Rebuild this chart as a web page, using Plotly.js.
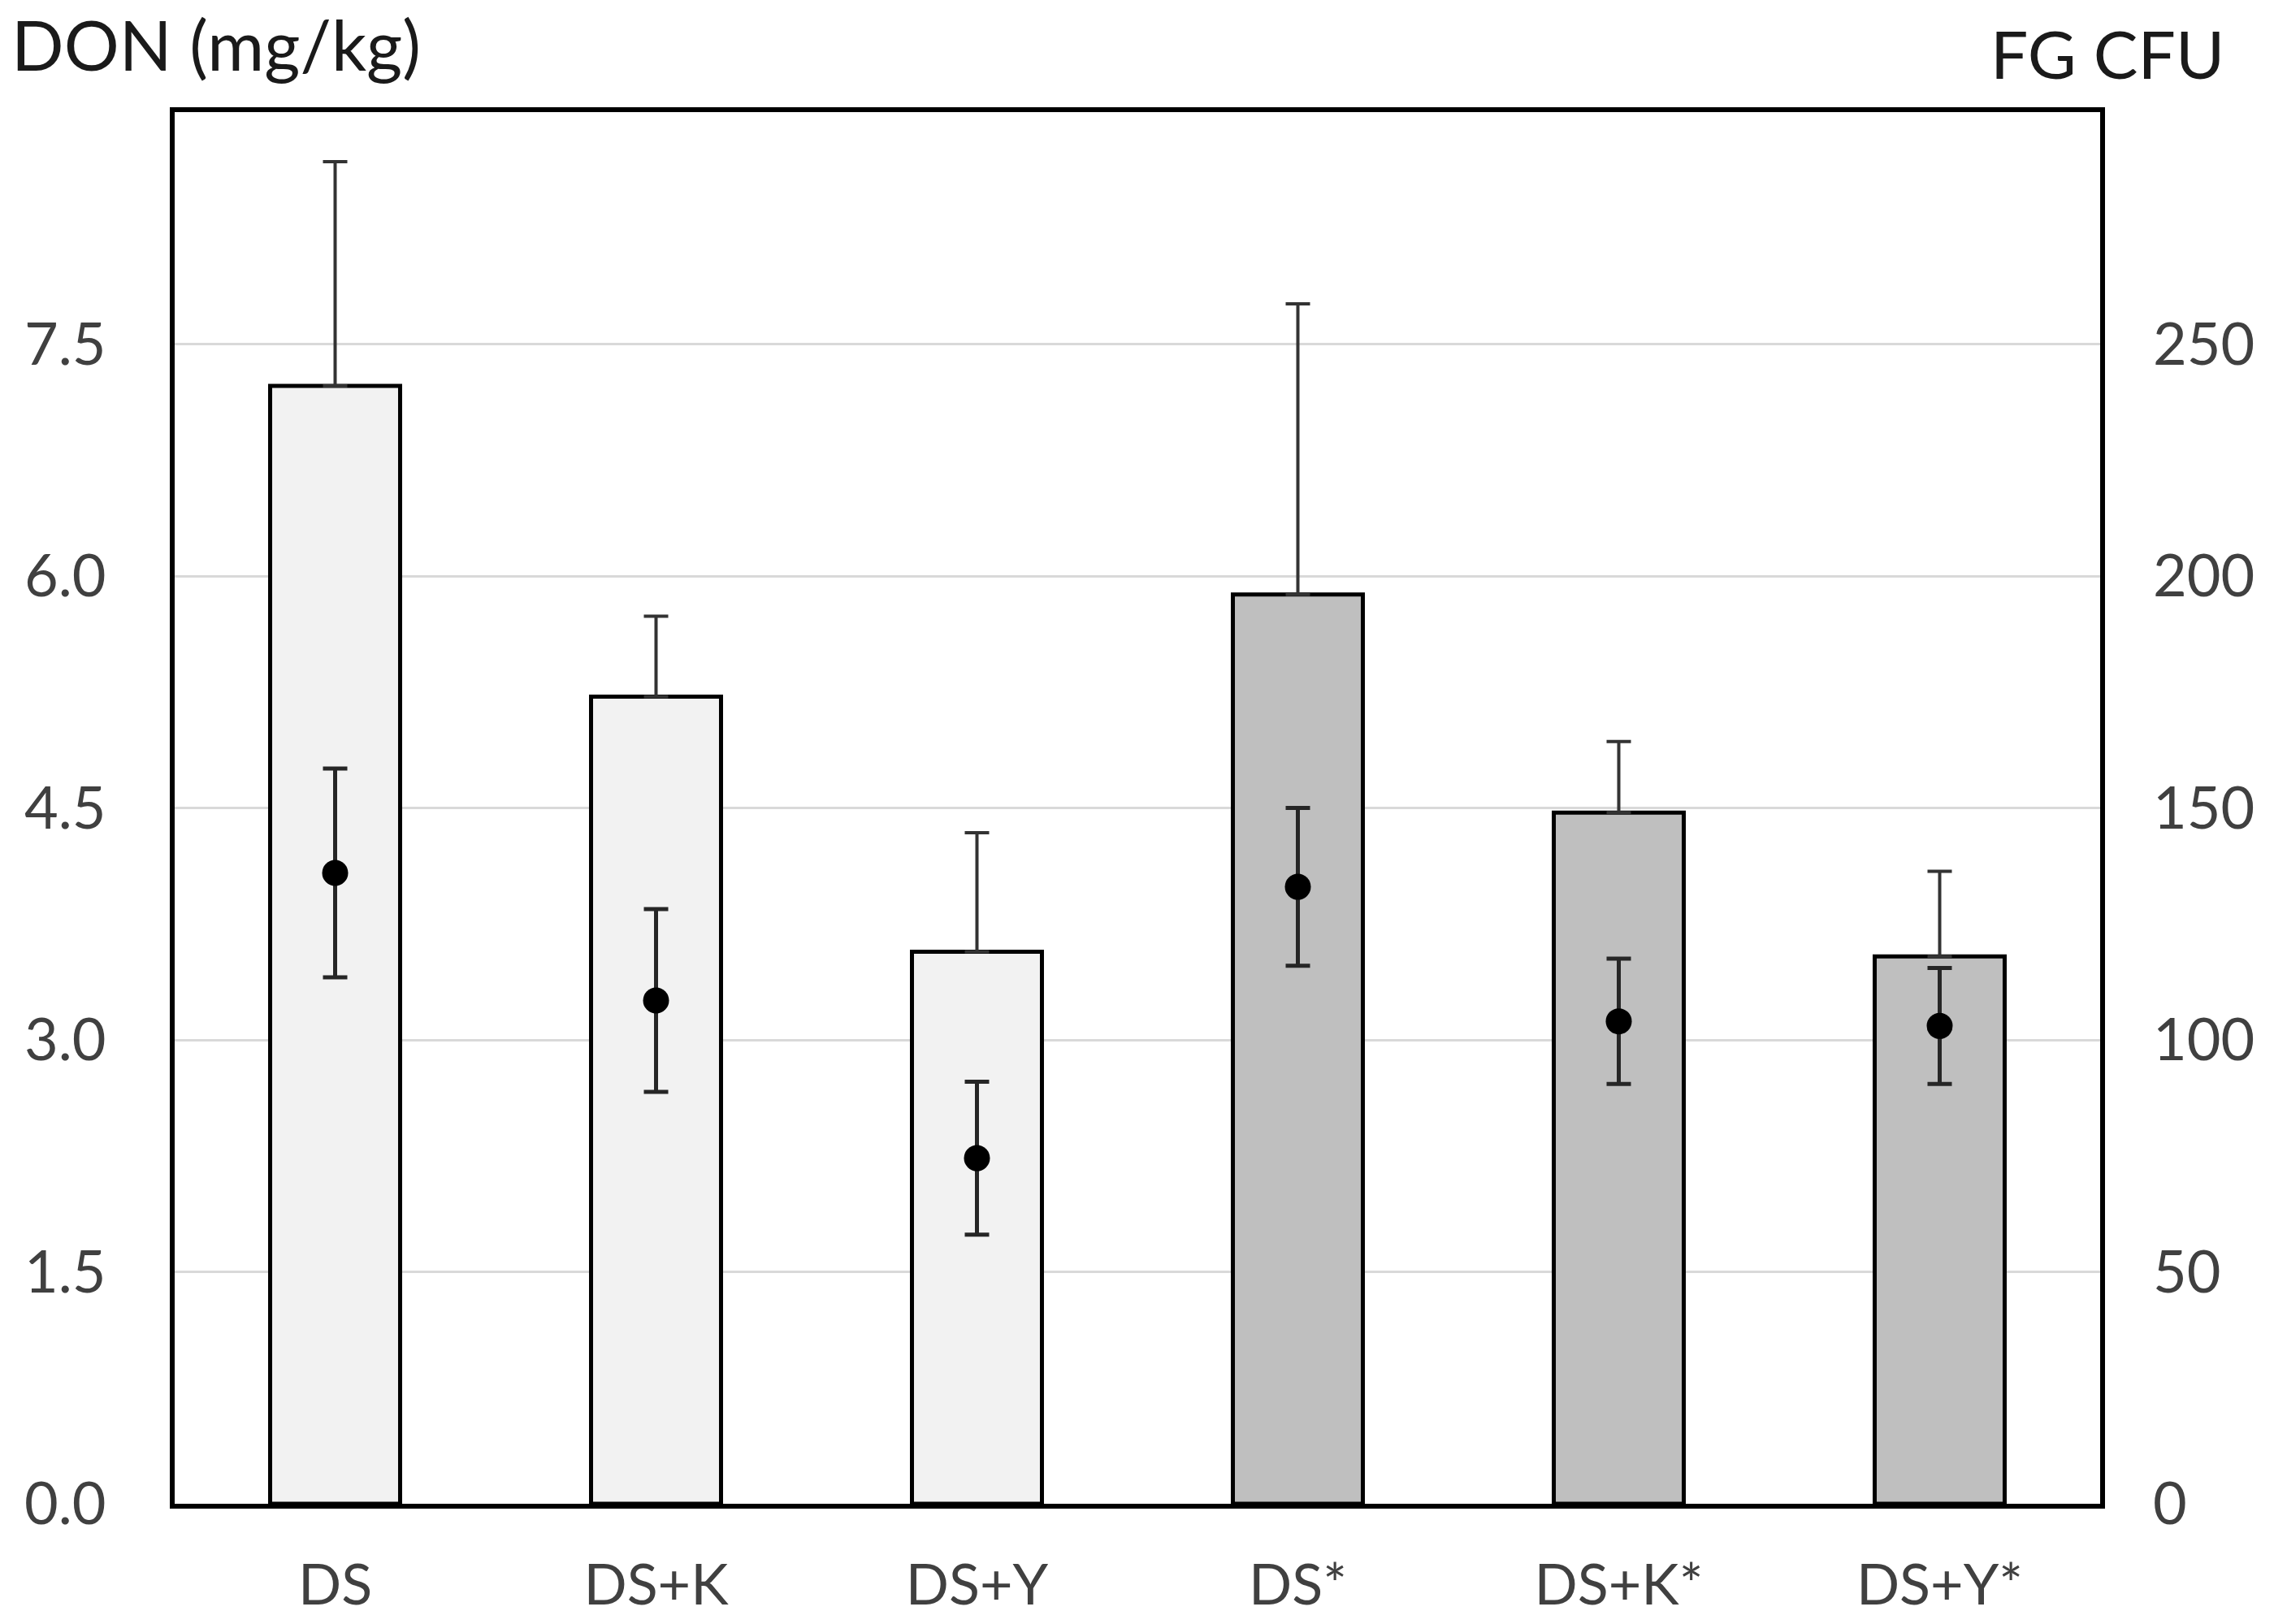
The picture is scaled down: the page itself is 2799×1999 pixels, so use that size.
<!DOCTYPE html>
<html>
<head>
<meta charset="utf-8">
<script src="https://cdn.plot.ly/plotly-3.0.1.min.js"></script>
<style>
  html, body { margin: 0; padding: 0; background: #ffffff; }
  #chart { width: 2799px; height: 1999px; }
</style>
</head>
<body>
<div id="chart"></div>
<script>
// ---- data ----
var categories = ["DS", "DS+K", "DS+Y", "DS*", "DS+K*", "DS+Y*"];
var donMean    = [7.23, 5.22, 3.57, 5.88, 4.47, 3.54];   // DON (mg/kg), bars, left axis
var donErr     = [1.45, 0.52, 0.77, 1.88, 0.46, 0.55];   // upper error only
var cfuMean    = [136, 108.5, 74.5, 133, 104, 103];       // FG CFU, points, right axis
var cfuErr     = [22.5, 19.7, 16.5, 17, 13.5, 12.5];      // symmetric error
var barColors  = ["#f2f2f2", "#f2f2f2", "#f2f2f2", "#bfbfbf", "#bfbfbf", "#bfbfbf"];
var leftTicks  = [0, 1.5, 3, 4.5, 6, 7.5];
var rightTicks = [0, 50, 100, 150, 200, 250];

var FONT = "Lato, 'Open Sans', 'Noto Sans', sans-serif";
var zeros = donMean.map(function () { return 0; });

var bars = {
  type: "bar",
  x: categories,
  y: donMean,
  width: 0.405,
  marker: { color: barColors, line: { color: "#000000", width: 5 } },
  error_y: {
    type: "data", symmetric: false, array: donErr, arrayminus: zeros,
    color: "#333333", thickness: 4, width: 15, visible: true
  },
  yaxis: "y",
  showlegend: false,
  hoverinfo: "skip"
};

var points = {
  type: "scatter",
  mode: "markers",
  x: categories,
  y: cfuMean,
  marker: { color: "#000000", size: 32, symbol: "circle" },
  error_y: {
    type: "data", symmetric: true, array: cfuErr,
    color: "#262626", thickness: 5, width: 15, visible: true
  },
  yaxis: "y2",
  showlegend: false,
  hoverinfo: "skip"
};

var layout = {
  width: 2799,
  height: 1999,
  margin: { l: 215, r: 214, t: 138, b: 148, pad: 0 },
  paper_bgcolor: "#ffffff",
  plot_bgcolor: "#ffffff",
  font: { family: FONT, size: 72, color: "#404040" },
  xaxis: {
    type: "category",
    range: [-0.5, 5.5],
    showline: true, mirror: true, linecolor: "#000000", linewidth: 6,
    showgrid: false, zeroline: false,
    ticks: "", ticklabelstandoff: 34,
    tickfont: { family: FONT, size: 70, color: "#404040" },
    fixedrange: true
  },
  yaxis: {
    range: [0, 9],
    tickvals: leftTicks,
    ticktext: leftTicks.map(function (v) { return v.toFixed(1); }),
    showline: true, mirror: true, linecolor: "#000000", linewidth: 6,
    showgrid: true, gridcolor: "#d9d9d9", gridwidth: 3,
    zeroline: false,
    ticks: "", ticklabelstandoff: 64,
    tickfont: { family: FONT, size: 72, color: "#404040" },
    fixedrange: true
  },
  yaxis2: {
    range: [0, 300],
    overlaying: "y",
    side: "right",
    tickvals: rightTicks,
    ticktext: rightTicks.map(function (v) { return String(v); }),
    showline: false, showgrid: false, zeroline: false,
    ticks: "", ticklabelstandoff: 64,
    tickfont: { family: FONT, size: 72, color: "#404040" },
    fixedrange: true
  },
  annotations: [
    {
      text: "DON (mg/kg)",
      xref: "paper", yref: "paper",
      x: -0.0855, y: 1.049,
      xanchor: "left", yanchor: "middle",
      showarrow: false,
      font: { family: FONT, size: 85, color: "#1a1a1a" }
    },
    {
      text: "FG CFU",
      xref: "paper", yref: "paper",
      x: 1.0655, y: 1.0425,
      xanchor: "right", yanchor: "middle",
      showarrow: false,
      font: { family: FONT, size: 82, color: "#1a1a1a" }
    }
  ]
};

Plotly.newPlot("chart", [bars, points], layout, { displayModeBar: false, staticPlot: true });
</script>
</body>
</html>
